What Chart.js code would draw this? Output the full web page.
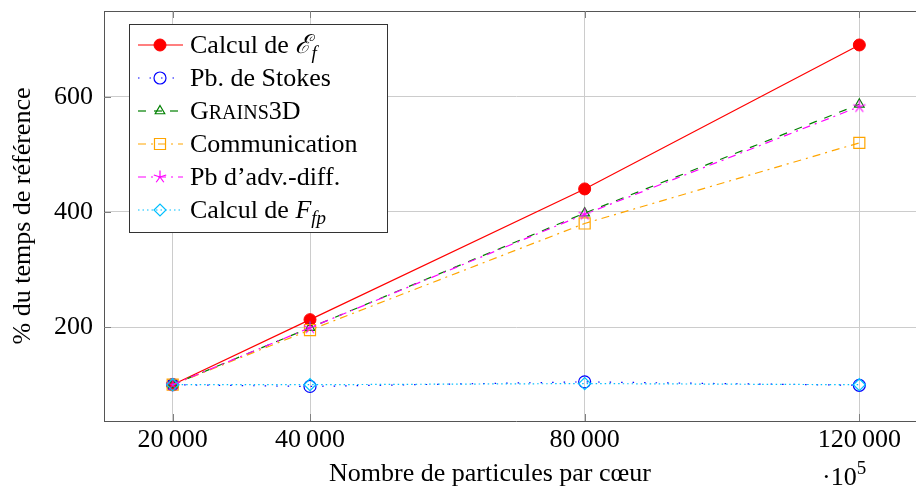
<!DOCTYPE html>
<html><head><meta charset="utf-8">
<script src="https://cdn.jsdelivr.net/npm/chart.js@4/dist/chart.umd.min.js"></script>
<style>html,body{margin:0;padding:0;background:#fff;overflow:hidden}#wrap{width:940px;height:493px}</style>
</head><body><div id="wrap"><canvas id="c" width="940" height="493"></canvas></div>
<script>
const particles = [20000, 40000, 80000, 120000];
const calculEf = [100, 213, 440, 690];
const stokes = [100, 97, 105, 99];
const grains3d = [100, 199, 398, 587];
const communication = [100, 195, 380, 520];
const advDiff = [100, 199, 396, 583];
const calculFfp = [100, 100, 102, 100];
const xTickValues = [20000, 40000, 80000, 120000];
const yTickValues = [200, 400, 600];
const xTitle = 'Nombre de particules par cœur';
const yTitle = '% du temps de référence';

const FONT = '"Liberation Serif", "DejaVu Serif", serif';
const FS = 26;

function starImg(color) {
  const c = document.createElement('canvas');
  c.width = 16; c.height = 16;
  const g = c.getContext('2d');
  g.strokeStyle = color; g.lineWidth = 1.2;
  for (let k = 0; k < 5; k++) {
    const a = -Math.PI / 2 + k * 2 * Math.PI / 5;
    g.beginPath(); g.moveTo(8, 8); g.lineTo(8 + 6.5 * Math.cos(a), 8 + 6.5 * Math.sin(a)); g.stroke();
  }
  return c;
}
const star = starImg('#ff00ff');

function pts(arr) { return particles.map((x, i) => ({x: x, y: arr[i]})); }

const datasets = [
  {label: 'ef', data: pts(calculEf), borderColor: '#ff0000', backgroundColor: '#ff0000', borderWidth: 1.2, borderDash: [],
   pointStyle: 'circle', pointRadius: 6, pointBorderWidth: 1, pointBackgroundColor: '#ff0000', pointBorderColor: '#ff0000', order: 5},
  {label: 'stokes', data: pts(stokes), borderColor: '#0000ff', borderWidth: 1.2, borderDash: [1.5, 10],
   pointStyle: 'circle', pointRadius: 6, pointBorderWidth: 1.2, pointBackgroundColor: 'rgba(0,0,0,0)', pointBorderColor: '#0000ff', order: 4},
  {label: 'grains', data: pts(grains3d), borderColor: '#008000', borderWidth: 1.2, borderDash: [8, 8],
   pointStyle: 'triangle', pointRadius: 5.5, pointBorderWidth: 1.2, pointBackgroundColor: 'rgba(0,0,0,0)', pointBorderColor: '#008000', order: 3},
  {label: 'comm', data: pts(communication), borderColor: '#ffa500', borderWidth: 1.2, borderDash: [8, 5, 2, 5],
   pointStyle: 'rect', pointRadius: 7.8, pointBorderWidth: 1.2, pointBackgroundColor: 'rgba(0,0,0,0)', pointBorderColor: '#ffa500', order: 2},
  {label: 'adv', data: pts(advDiff), borderColor: '#ff00ff', borderWidth: 1.2, borderDash: [8, 5, 2, 5],
   pointStyle: star, pointRadius: 7, pointBorderWidth: 1, pointBackgroundColor: '#ff00ff', pointBorderColor: '#ff00ff', order: 1},
  {label: 'ffp', data: pts(calculFfp), borderColor: '#00bfff', borderWidth: 1.2, borderDash: [1.5, 3],
   pointStyle: 'rectRot', pointRadius: 6, pointBorderWidth: 1.2, pointBackgroundColor: 'rgba(0,0,0,0)', pointBorderColor: '#00bfff', order: 0}
];

const legendRows = [
  [{t: 'Calcul de ', f: FS + 'px ' + FONT}, {t: 'ℰ', f: 'italic ' + FS + 'px "DejaVu Serif", ' + FONT}, {t: 'f', f: 'italic 19px ' + FONT, dy: 6}],
  [{t: 'Pb. de Stokes', f: FS + 'px ' + FONT}],
  [{t: 'G', f: FS + 'px ' + FONT}, {t: 'RAINS', f: '20px ' + FONT}, {t: '3D', f: FS + 'px ' + FONT}],
  [{t: 'Communication', f: FS + 'px ' + FONT}],
  [{t: 'Pb d’adv.-diff.', f: FS + 'px ' + FONT}],
  [{t: 'Calcul de ', f: FS + 'px ' + FONT}, {t: 'F', f: 'italic ' + FS + 'px ' + FONT}, {t: 'fp', f: 'italic 19px ' + FONT, dy: 6}]
];

function drawRuns(ctx, runs, x, y) {
  ctx.textBaseline = 'alphabetic'; ctx.textAlign = 'left'; ctx.fillStyle = '#000';
  for (const r of runs) {
    ctx.font = r.f;
    ctx.fillText(r.t, x, y + (r.dy || 0));
    x += ctx.measureText(r.t).width;
  }
}

const decor = {
  id: 'decor',
  afterDatasetsDraw(chart) {
    const ctx = chart.ctx, a = chart.chartArea;
    const xs = chart.scales.x, ys = chart.scales.y;
    ctx.save();
    ctx.strokeStyle = '#555'; ctx.lineWidth = 1;
    ctx.beginPath(); ctx.moveTo(a.left, a.top + 0.5); ctx.lineTo(a.right, a.top + 0.5); ctx.stroke();
    ctx.strokeStyle = '#808080';
    for (const v of xTickValues) {
      const px = Math.round(xs.getPixelForValue(v)) + 0.5;
      ctx.beginPath(); ctx.moveTo(px, a.bottom); ctx.lineTo(px, a.bottom - 7); ctx.stroke();
      ctx.beginPath(); ctx.moveTo(px, a.top); ctx.lineTo(px, a.top + 7); ctx.stroke();
    }
    for (const v of yTickValues) {
      const py = Math.round(ys.getPixelForValue(v)) + 0.5;
      ctx.beginPath(); ctx.moveTo(a.left, py); ctx.lineTo(a.left + 7, py); ctx.stroke();
    }
    // legend
    const bx = 129, by = 24, bw = 258, bh = 208;
    ctx.fillStyle = '#fff'; ctx.fillRect(bx, by, bw, bh);
    ctx.strokeStyle = '#333'; ctx.lineWidth = 1;
    ctx.strokeRect(bx + 0.5, by + 0.5, bw, bh);
    const rowY = [45, 78, 111, 144, 177, 210];
    chart.data.datasets.forEach((ds, i) => {
      const y = rowY[i];
      ctx.save();
      ctx.strokeStyle = ds.borderColor; ctx.lineWidth = ds.borderWidth;
      ctx.setLineDash(ds.borderDash || []);
      ctx.beginPath(); ctx.moveTo(138, y); ctx.lineTo(183, y); ctx.stroke();
      ctx.setLineDash([]);
      ctx.strokeStyle = ds.pointBorderColor; ctx.fillStyle = ds.pointBackgroundColor; ctx.lineWidth = ds.pointBorderWidth;
      Chart.helpers.drawPoint(ctx, {
        pointStyle: ds.pointStyle, radius: ds.pointRadius, borderWidth: ds.pointBorderWidth, rotation: 0
      }, 160, y);
      ctx.restore();
      drawRuns(ctx, legendRows[i], 190, y + 8);
    });
    // axis titles
    ctx.fillStyle = '#000';
    ctx.font = FS + 'px ' + FONT;
    ctx.textAlign = 'center'; ctx.textBaseline = 'middle';
    ctx.fillText(xTitle, 490, 474);
    ctx.save();
    ctx.translate(23, 216); ctx.rotate(-Math.PI / 2);
    ctx.fillText(yTitle, 0, 0);
    ctx.restore();
    ctx.textAlign = 'left'; ctx.textBaseline = 'alphabetic';
    ctx.font = FS + 'px ' + FONT;
    ctx.fillText('·10', 822, 485);
    const w = ctx.measureText('·10').width;
    ctx.font = '19px ' + FONT;
    ctx.fillText('5', 822 + w, 474);
    ctx.restore();
  }
};

new Chart(document.getElementById('c'), {
  type: 'line',
  data: {datasets: datasets},
  options: {
    responsive: false, animation: false, devicePixelRatio: 1,
    layout: {padding: {top: 11, right: 12, left: 0, bottom: 0}},
    plugins: {legend: {display: false}, tooltip: {enabled: false}},
    elements: {line: {tension: 0}},
    scales: {
      x: {
        type: 'linear', min: 10000, max: 130000,
        afterFit(s) { s.height = 72; s.paddingLeft = 0; s.paddingRight = 0; },
        afterBuildTicks(s) { s.ticks = xTickValues.map(v => ({value: v})); },
        grid: {color: '#cccccc', lineWidth: 1, drawTicks: false},
        border: {display: true, color: '#555', width: 1},
        ticks: {
          padding: 4, color: '#000', font: {family: FONT, size: FS}, maxRotation: 0, autoSkip: false,
          callback: v => String(v).replace(/\B(?=(\d{3})+(?!\d))/g, '\u2009')
        }
      },
      y: {
        type: 'linear', min: 37, max: 749,
        afterFit(s) { s.width = 104; s.paddingTop = 0; s.paddingBottom = 0; },
        afterBuildTicks(s) { s.ticks = yTickValues.map(v => ({value: v})); },
        grid: {color: '#cccccc', lineWidth: 1, drawTicks: false},
        border: {display: true, color: '#555', width: 1},
        ticks: {padding: 11, color: '#000', font: {family: FONT, size: FS}, autoSkip: false, callback: v => String(v)}
      }
    }
  },
  plugins: [decor]
});
</script>
</body></html>
